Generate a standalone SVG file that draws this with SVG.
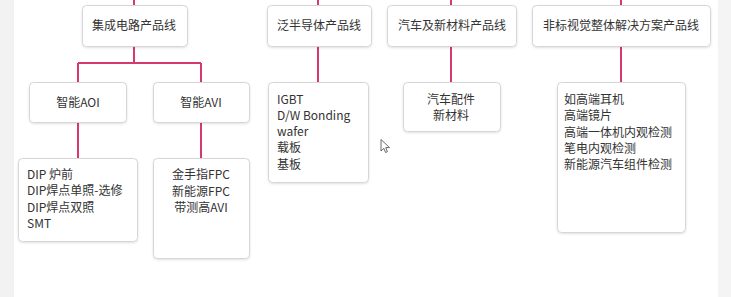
<svg xmlns="http://www.w3.org/2000/svg" width="731" height="297" viewBox="0 0 731 297">
<style>
.bx{fill:#fff;stroke:#d6d6d6;stroke-width:1}
.t{font-family:"Noto Sans CJK SC","Microsoft YaHei",sans-serif;font-size:12px;fill:#333}
.c{text-anchor:middle}
.ln{stroke:#d43a70;stroke-width:2;fill:none}
</style>
<defs>
<filter id="sh" x="-5%" y="-5%" width="110%" height="115%"><feDropShadow dx="0" dy="1" stdDeviation="0.8" flood-color="#000" flood-opacity="0.12"/></filter>
</defs>
<rect width="731" height="297" fill="#fff"/>
<rect x="0" y="0" width="14" height="297" fill="#f2f2f2"/>
<rect x="718" y="0" width="13" height="297" fill="#f4f4f4"/>
<g id="connectors">
<path class="ln" d="M134,0V5M134,46V63M78,63H201M78,63V82M201,63V82M78,122V158M201,122V158"/>
<path class="ln" d="M318,0V5M318,46V82"/>
<path class="ln" d="M451,0V5M451,46V82"/>
<path class="ln" d="M621,0V5M621,46V82"/>
</g>
<g id="n1"><rect class="bx" filter="url(#sh)" x="82.5" y="5.5" width="105" height="41" rx="4"/><text class="t c" x="134" y="30">集成电路产品线</text></g>
<g id="n2"><rect class="bx" filter="url(#sh)" x="267.5" y="5.5" width="104" height="41" rx="4"/><text class="t c" x="319" y="30">泛半导体产品线</text></g>
<g id="n3"><rect class="bx" filter="url(#sh)" x="387.5" y="5.5" width="129" height="41" rx="4"/><text class="t c" x="452" y="30">汽车及新材料产品线</text></g>
<g id="n4"><rect class="bx" filter="url(#sh)" x="532.5" y="5.5" width="178" height="41" rx="4"/><text class="t c" x="621" y="30">非标视觉整体解决方案产品线</text></g>
<g id="n5"><rect class="bx" filter="url(#sh)" x="29.5" y="82.5" width="97" height="40" rx="4"/><text class="t c" x="78" y="107">智能AOI</text></g>
<g id="n6"><rect class="bx" filter="url(#sh)" x="153.5" y="82.5" width="96" height="40" rx="4"/><text class="t c" x="201" y="107">智能AVI</text></g>
<g id="n7"><rect class="bx" filter="url(#sh)" x="18.5" y="158.5" width="119" height="83" rx="4"/>
<text class="t" x="27" y="178.5">DIP 炉前</text>
<text class="t" x="27" y="195">DIP焊点单照-选修</text>
<text class="t" x="27" y="211.5">DIP焊点双照</text>
<text class="t" x="27" y="228">SMT</text></g>
<g id="n8"><rect class="bx" filter="url(#sh)" x="153.5" y="158.5" width="96" height="100" rx="4"/>
<text class="t c" x="201" y="178.5">金手指FPC</text>
<text class="t c" x="201" y="195.5">新能源FPC</text>
<text class="t c" x="201" y="211.5">带测高AVI</text></g>
<g id="n9"><rect class="bx" filter="url(#sh)" x="268.5" y="82.5" width="100" height="100" rx="4"/>
<text class="t" x="277" y="103.5">IGBT</text>
<text class="t" x="277" y="119.5">D/W Bonding</text>
<text class="t" x="277" y="135.5">wafer</text>
<text class="t" x="277" y="152">载板</text>
<text class="t" x="277" y="168.5">基板</text></g>
<g id="n10"><rect class="bx" filter="url(#sh)" x="403.5" y="82.5" width="97" height="49" rx="4"/>
<text class="t c" x="451" y="103.5">汽车配件</text>
<text class="t c" x="451" y="119.5">新材料</text></g>
<g id="n11"><rect class="bx" filter="url(#sh)" x="557.5" y="82.5" width="128" height="150" rx="4"/>
<text class="t" x="564" y="103.5">如高端耳机</text>
<text class="t" x="564" y="120">高端镜片</text>
<text class="t" x="564" y="136.5">高端一体机内观检测</text>
<text class="t" x="564" y="152.5">笔电内观检测</text>
<text class="t" x="564" y="168.5">新能源汽车组件检测</text></g>
<path d="M381,139.5V151L383.8,148.3L385.6,152.5L387.4,151.7L385.7,147.6H389.5Z" fill="#fff" stroke="#444" stroke-width="0.8"/>
</svg>
